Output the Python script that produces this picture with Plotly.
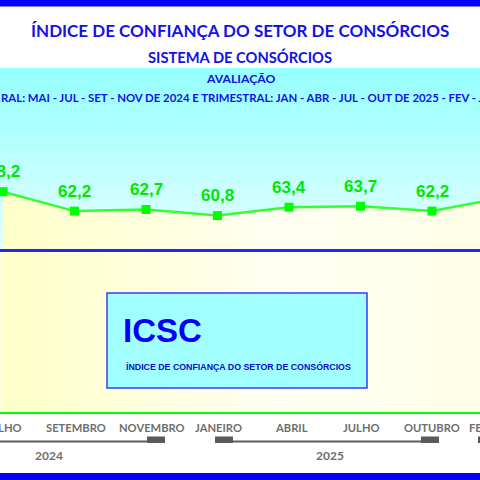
import plotly.graph_objects as go

# ---------------- data ----------------
months = ["JULHO", "SETEMBRO", "NOVEMBRO", "JANEIRO", "ABRIL", "JULHO", "OUTUBRO", "FEVEREIRO"]
month_idx = [1, 2, 3, 4, 5, 6, 7, 8]
icsc = [68.2, 62.2, 62.7, 60.8, 63.4, 63.7, 62.2, 66.4]
labels = ["68,2", "62,2", "62,7", "60,8", "63,4", "63,7", "62,2", "66,4"]
years = ["2024", "2025"]
reference_level = 50

title1 = "ÍNDICE DE CONFIANÇA DO SETOR DE CONSÓRCIOS"
title2 = "SISTEMA DE CONSÓRCIOS"
title3 = "AVALIAÇÃO"
title4 = "RAL: MAI - JUL - SET - NOV DE 2024 E TRIMESTRAL: JAN - ABR - JUL - OUT DE 2025 - FEV - JUL"
box_big = "ICSC"
box_small = "ÍNDICE DE CONFIANÇA DO SETOR DE CONSÓRCIOS"

# ---------------- geometry helpers (pixel -> coords) ----------------
W = H = 480
X0, DX = -68.5, 71.5           # pixel of index 0, pixel spacing


def px2x(p):
    return (p - X0) / DX


def py(p):
    return 1 - p / H


PLOT_TOP, PLOT_BOT = 68, 412
YMAX = 106.5

TITLE_BLUE = "#1212E6"
GRAY = "#6E6E6E"
TFONT = "Lato"

fig = go.Figure()

# main series with gradient fill to zero
fig.add_trace(go.Scatter(
    x=month_idx, y=icsc, mode="lines+markers",
    line=dict(color="#33FF33", width=2.5),
    marker=dict(symbol="square", size=9, color="#00FF00"),
    fill="tozeroy",
    fillgradient=dict(type="horizontal",
                      colorscale=[[0, "#FFFFC8"], [0.55, "#FFFFF2"], [1, "#FFFFE6"]]),
    hoverinfo="skip", showlegend=False,
))

shapes = []
# cyan vertical gradient background (stripes)
N = 46
for k in range(N):
    p0 = PLOT_TOP + (252 - PLOT_TOP) * k / N
    p1 = PLOT_TOP + (252 - PLOT_TOP) * (k + 1) / N + 0.6
    t = k / (N - 1)
    r = int(150 + (228 - 150) * t)
    shapes.append(dict(type="rect", xref="paper", yref="paper", x0=0, x1=1,
                       y0=py(p1), y1=py(p0), fillcolor=f"rgb({r},255,255)",
                       line=dict(width=0), layer="below"))
# pale yellow below
shapes.append(dict(type="rect", xref="paper", yref="paper", x0=0, x1=1,
                   y0=py(PLOT_BOT), y1=py(250), fillcolor="#FFFFDC",
                   line=dict(width=0), layer="below"))

# reference line at 50
shapes.append(dict(type="line", xref="paper", yref="y", x0=0, x1=1,
                   y0=reference_level, y1=reference_level,
                   line=dict(color="#2424FF", width=3)))

# top & bottom blue bars
shapes.append(dict(type="rect", xref="paper", yref="paper", x0=0, x1=1,
                   y0=py(6.5), y1=1, fillcolor="#0000FF", line=dict(width=0)))
shapes.append(dict(type="rect", xref="paper", yref="paper", x0=0, x1=1,
                   y0=0, y1=py(473), fillcolor="#0000FF", line=dict(width=0)))

# ICSC box
shapes.append(dict(type="rect", xref="paper", yref="paper",
                   x0=107 / W, x1=367 / W, y0=py(388), y1=py(293),
                   fillcolor="#A2FFFF", line=dict(color="#3A3AFF", width=1.5)))

# year brackets (pixel spans -> paper)
BR = "#5A5A5A"
for a, b in [(0, 165), (215, 439)]:
    shapes.append(dict(type="rect", xref="paper", yref="paper", x0=a / W, x1=b / W,
                       y0=py(442.5), y1=py(440.5), fillcolor=BR, line=dict(width=0)))
for a, b in [(147, 165), (215, 233), (421, 439), (478, 496)]:
    shapes.append(dict(type="rect", xref="paper", yref="paper", x0=a / W, x1=min(b, W) / W,
                       y0=py(443), y1=py(436.5), fillcolor=BR, line=dict(width=0)))

annotations = []
# value labels
for xi, yi, lab in zip(month_idx, icsc, labels):
    annotations.append(dict(x=xi, y=yi, xref="x", yref="y", text=lab, showarrow=False,
                            yshift=20, font=dict(family="Liberation Sans", size=17,
                                                 color="#00E600", weight="bold")))
# month labels (category axis text), placed in paper coords so edge ones stay partly visible
label_xshift = [0, 1, 6, 1, 2, 1, 0, -4]
for xi, m, s in zip(month_idx, months, label_xshift):
    annotations.append(dict(x=(X0 + DX * xi + s) / W, y=py(427), xref="paper", yref="paper",
                            text=m, showarrow=False, xanchor="center", yanchor="middle",
                            font=dict(family=TFONT, size=11.2, color=GRAY, weight="bold")))
# titles
annotations += [
    dict(x=0.5, y=py(31), text=title1, font=dict(family=TFONT, size=17, color=TITLE_BLUE, weight="bold")),
    dict(x=0.5, y=py(57), text=title2, font=dict(family=TFONT, size=14.7, color=TITLE_BLUE, weight="bold")),
    dict(x=0.5, y=py(79), text=title3, font=dict(family=TFONT, size=12.2, color=TITLE_BLUE, weight="bold")),
    dict(x=-0.003, y=py(98), text=title4, xanchor="left",
         font=dict(family=TFONT, size=11.4, color=TITLE_BLUE, weight="bold")),
]
for a in annotations[-4:]:
    a.update(xref="paper", yref="paper", showarrow=False, yanchor="middle")
    a.setdefault("xanchor", "center")

# box text
annotations.append(dict(x=121 / W, y=py(330), xref="paper", yref="paper", xanchor="left",
                        yanchor="middle", showarrow=False, text=box_big,
                        font=dict(family="Liberation Sans", size=33, color="#0000FF", weight="bold")))
annotations.append(dict(x=124 / W, y=py(366), xref="paper", yref="paper", xanchor="left",
                        yanchor="middle", showarrow=False, text=box_small,
                        font=dict(family="Liberation Sans", size=8.8,
                                  color="#0A0AD0", weight="bold")))
# year labels
for txt, xp in zip(years, [49, 329.5]):
    annotations.append(dict(x=xp / W, y=py(455.5), xref="paper", yref="paper", showarrow=False,
                            xanchor="center", yanchor="middle", text=txt,
                            font=dict(family=TFONT, size=12, color=GRAY, weight="bold")))

fig.update_layout(
    width=W, height=H, margin=dict(l=0, r=0, t=0, b=0),
    paper_bgcolor="white", plot_bgcolor="#FFFFDC",
    shapes=shapes, annotations=annotations, showlegend=False,
    xaxis=dict(range=[px2x(0), px2x(W)], domain=[0, 1], showgrid=False, zeroline=False,
               showline=True, linecolor="#00FF00", linewidth=2,
               tickvals=month_idx, ticktext=months, ticks="", showticklabels=False,
               fixedrange=True),
    yaxis=dict(range=[0, YMAX], domain=[py(PLOT_BOT), py(PLOT_TOP)], visible=False,
               fixedrange=True),
)

fig.write_html("out.html", config={"displayModeBar": False})
